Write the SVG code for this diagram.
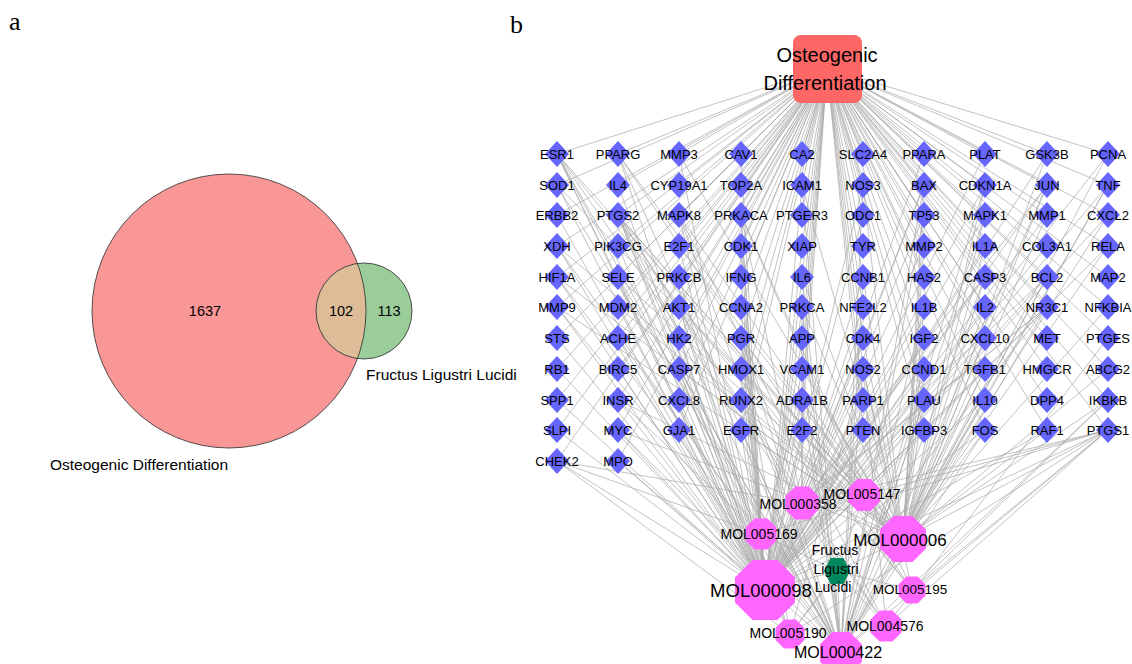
<svg xmlns="http://www.w3.org/2000/svg" xmlns:xlink="http://www.w3.org/1999/xlink" width="1132" height="664" viewBox="0 0 1132 664">
<style>
  text{font-family:"Liberation Sans",Arial,Helvetica,sans-serif;fill:#000}
  .panel{font-family:"Liberation Serif","Times New Roman",serif;font-size:26px}
  .v{font-size:15.5px}
  .vn{font-size:14.5px}
  .c{text-anchor:middle}
  .g{font-size:13px;text-anchor:middle}
  .m{font-size:14px;text-anchor:middle}
  .e{fill:none;stroke:#a9a9a9;stroke-width:0.7}
  .vc{stroke:#2a2a2a;stroke-width:0.8}
</style>
<defs>
  <polygon id="dia" points="0,-13 12,0 0,13 -12,0" fill="#6666FF"/>
  <polygon id="oct" points="9.239,3.827 3.827,9.239 -3.827,9.239 -9.239,3.827 -9.239,-3.827 -3.827,-9.239 3.827,-9.239 9.239,-3.827" fill="#FF66FF"/>
</defs>
<rect width="1132" height="664" fill="#fff"/>

<text class="panel" x="9" y="30">a</text>
<text class="panel" x="510" y="33">b</text>

<!-- Venn diagram -->
<g id="venn">
  <circle id="venn-osteo" cx="229" cy="311" r="137" fill="#F99696"/>
  <circle id="venn-fll" cx="364" cy="311" r="48" fill="#9ACD9A"/>
  <path id="venn-overlap" d="M357.5,263.5 A137,137 0 0 1 357.5,358.5 A48,48 0 0 1 357.5,263.5 Z" fill="#DFBC98"/>
  <circle class="vc" cx="229" cy="311" r="137" fill="none"/>
  <circle class="vc" cx="364" cy="311" r="48" fill="none"/>
  <text class="vn c" x="205" y="316">1637</text>
  <text class="vn c" x="341" y="316">102</text>
  <text class="vn c" x="389" y="316">113</text>
  <text class="v" x="366" y="380">Fructus Ligustri Lucidi</text>
  <text class="v" x="50" y="470">Osteogenic Differentiation</text>
</g>

<!-- Connectors -->
<g id="edges">
  <path id="e-OD" class="e" d="M827 68L557 154M827 68L618 154M827 68L679 154M827 68L741 154M827 68L802 154M827 68L863 154M827 68L924 154M827 68L985 154M827 68L1047 154M827 68L1108 154
  M827 68L557 185M827 68L618 185M827 68L679 185M827 68L741 185M827 68L802 185M827 68L863 185M827 68L924 185M827 68L985 185M827 68L1047 185M827 68L1108 185
  M827 68L557 215M827 68L618 215M827 68L679 215M827 68L741 215M827 68L802 215M827 68L863 215M827 68L924 215M827 68L985 215M827 68L1047 215M827 68L1108 215
  M827 68L557 246M827 68L618 246M827 68L679 246M827 68L741 246M827 68L802 246M827 68L863 246M827 68L924 246M827 68L985 246M827 68L1047 246M827 68L1108 246
  M827 68L557 277M827 68L618 277M827 68L679 277M827 68L741 277M827 68L802 277M827 68L863 277M827 68L924 277M827 68L985 277M827 68L1047 277M827 68L1108 277
  M827 68L557 307M827 68L618 307M827 68L679 307M827 68L741 307M827 68L802 307M827 68L863 307M827 68L924 307M827 68L985 307M827 68L1047 307M827 68L1108 307
  M827 68L557 338M827 68L618 338M827 68L679 338M827 68L741 338M827 68L802 338M827 68L863 338M827 68L924 338M827 68L985 338M827 68L1047 338M827 68L1108 338
  M827 68L557 369M827 68L618 369M827 68L679 369M827 68L741 369M827 68L802 369M827 68L863 369M827 68L924 369M827 68L985 369M827 68L1047 369M827 68L1108 369
  M827 68L557 400M827 68L618 400M827 68L679 400M827 68L741 400M827 68L802 400M827 68L863 400M827 68L924 400M827 68L985 400M827 68L1047 400M827 68L1108 400
  M827 68L557 430M827 68L618 430M827 68L679 430M827 68L741 430M827 68L802 430M827 68L863 430M827 68L924 430M827 68L985 430M827 68L1047 430M827 68L1108 430
  M827 68L557 461M827 68L618 461"/>
  <path id="e-M98" class="e" d="M765 590L557 154M765 590L618 154M765 590L679 154M765 590L741 154M765 590L924 154M765 590L985 154M765 590L1047 154M765 590L1108 154
  M765 590L557 185M765 590L618 185M765 590L802 185M765 590L863 185M765 590L924 185M765 590L985 185M765 590L1047 185M765 590L1108 185
  M765 590L557 215M765 590L618 215M765 590L679 215M765 590L741 215M765 590L863 215M765 590L924 215M765 590L985 215M765 590L1047 215M765 590L1108 215
  M765 590L557 246M765 590L618 246M765 590L679 246M765 590L741 246M765 590L802 246M765 590L924 246M765 590L985 246M765 590L1047 246M765 590L1108 246
  M765 590L557 277M765 590L618 277M765 590L679 277M765 590L741 277M765 590L802 277M765 590L863 277M765 590L985 277M765 590L1047 277
  M765 590L557 307M765 590L618 307M765 590L679 307M765 590L741 307M765 590L802 307M765 590L863 307M765 590L924 307M765 590L985 307
  M765 590L557 338M765 590L618 338M765 590L679 338M765 590L741 338M765 590L802 338M765 590L863 338M765 590L924 338M765 590L985 338
  M765 590L557 369M765 590L618 369M765 590L679 369M765 590L741 369M765 590L802 369M765 590L863 369M765 590L924 369M765 590L985 369
  M765 590L557 400M765 590L618 400M765 590L679 400M765 590L741 400M765 590L802 400M765 590L863 400M765 590L924 400M765 590L985 400
  M765 590L557 430M765 590L618 430M765 590L679 430M765 590L741 430M765 590L802 430M765 590L863 430M765 590L924 430M765 590L985 430M765 590L1047 430M765 590L1108 430
  M765 590L557 461M765 590L618 461"/>
  <path id="e-M06" class="e" d="M903 539L618 154M903 539L679 154M903 539L1108 154M903 539L1047 154M903 539L557 185M903 539L802 185M903 539L863 185M903 539L924 185M903 539L985 185M903 539L1047 185M903 539L1108 185
  M903 539L618 215M903 539L679 215M903 539L924 215M903 539L985 215M903 539L1047 215M903 539L1108 215M903 539L557 246M903 539L679 246M903 539L924 246M903 539L985 246M903 539L1108 246
  M903 539L557 277M903 539L618 277M903 539L802 277M903 539L863 277M903 539L985 277M903 539L1047 277M903 539L557 307M903 539L618 307M903 539L679 307M903 539L802 307M903 539L924 307M903 539L985 307M903 539L1108 307
  M903 539L863 338M903 539L924 338M903 539L985 338M903 539L679 369M903 539L741 369M903 539L802 369M903 539L863 369M903 539L924 369M903 539L985 369M903 539L1108 369
  M903 539L618 400M903 539L924 400M903 539L985 400M903 539L1108 400M903 539L618 430M903 539L741 430M903 539L985 430M903 539L1047 430M903 539L1108 430"/>
  <path id="e-M422" class="e" d="M841 652L557 154M841 652L618 154M841 652L557 185M841 652L802 185M841 652L863 185M841 652L924 185M841 652L985 185M841 652L1047 185M841 652L1108 185
  M841 652L618 215M841 652L679 215M841 652L924 215M841 652L985 215M841 652L557 246M841 652L557 277M841 652L618 277M841 652L802 277M841 652L985 277M841 652L1047 277M841 652L863 277
  M841 652L557 307M841 652L679 307M841 652L802 307M841 652L924 307M841 652L1047 307M841 652L741 338M841 652L679 369M841 652L741 369M841 652L802 369M841 652L863 369M841 652L924 369M841 652L985 369
  M841 652L802 400M841 652L924 400M841 652L1108 400M841 652L618 430M841 652L741 430M841 652L985 430M841 652L1108 430M841 652L618 461"/>
  <path id="e-M358" class="e" d="M802 503L741 338M802 503L1047 307M802 503L1108 430M802 503L618 215M802 503L924 185M802 503L985 277M802 503L802 307M802 503L1047 277M802 503L1047 185M802 503L802 400M802 503L741 215M802 503L557 461"/>
  <path id="e-M5147" class="e" d="M864 495L1108 430M864 495L618 215M864 495L741 215M864 495L802 400M864 495L1047 307M864 495L741 338M864 495L557 154"/>
  <path id="e-M5169" class="e" d="M761 534L1108 430M761 534L618 215M761 534L741 338M761 534L1047 307M761 534L557 154M761 534L618 338M761 534L802 400M761 534L741 215M761 534L557 461M761 534L618 400"/>
  <path id="e-M5195" class="e" d="M912 590L1108 430M912 590L618 215M912 590L557 154M912 590L618 154M912 590L1108 400M912 590L863 369M912 590L741 215"/>
  <path id="e-M4576" class="e" d="M886 626L1108 430M886 626L618 215M886 626L557 154M886 626L679 215M886 626L863 369M886 626L1108 338"/>
  <path id="e-M5190" class="e" d="M790 634L1108 430M790 634L618 215M790 634L557 154M790 634L557 461M790 634L679 307M790 634L741 338M790 634L1047 307M790 634L863 369"/>
  <path id="e-FLL" class="e" d="M837 571L765 590M837 571L903 539M837 571L841 652M837 571L802 503M837 571L864 495M837 571L761 534M837 571L912 590M837 571L886 626M837 571L790 634"/>
</g>

<!-- Target nodes -->
<g id="targets">
  <g id="n-ESR1"><use href="#dia" x="557" y="154"/><text class="g" x="557" y="159">ESR1</text></g>
  <g id="n-PPARG"><use href="#dia" x="618" y="154"/><text class="g" x="618" y="159">PPARG</text></g>
  <g id="n-MMP3"><use href="#dia" x="679" y="154"/><text class="g" x="679" y="159">MMP3</text></g>
  <g id="n-CAV1"><use href="#dia" x="741" y="154"/><text class="g" x="741" y="159">CAV1</text></g>
  <g id="n-CA2"><use href="#dia" x="802" y="154"/><text class="g" x="802" y="159">CA2</text></g>
  <g id="n-SLC2A4"><use href="#dia" x="863" y="154"/><text class="g" x="863" y="159">SLC2A4</text></g>
  <g id="n-PPARA"><use href="#dia" x="924" y="154"/><text class="g" x="924" y="159">PPARA</text></g>
  <g id="n-PLAT"><use href="#dia" x="985" y="154"/><text class="g" x="985" y="159">PLAT</text></g>
  <g id="n-GSK3B"><use href="#dia" x="1047" y="154"/><text class="g" x="1047" y="159">GSK3B</text></g>
  <g id="n-PCNA"><use href="#dia" x="1108" y="154"/><text class="g" x="1108" y="159">PCNA</text></g>

  <g id="n-SOD1"><use href="#dia" x="557" y="185"/><text class="g" x="557" y="190">SOD1</text></g>
  <g id="n-IL4"><use href="#dia" x="618" y="185"/><text class="g" x="618" y="190">IL4</text></g>
  <g id="n-CYP19A1"><use href="#dia" x="679" y="185"/><text class="g" x="679" y="190">CYP19A1</text></g>
  <g id="n-TOP2A"><use href="#dia" x="741" y="185"/><text class="g" x="741" y="190">TOP2A</text></g>
  <g id="n-ICAM1"><use href="#dia" x="802" y="185"/><text class="g" x="802" y="190">ICAM1</text></g>
  <g id="n-NOS3"><use href="#dia" x="863" y="185"/><text class="g" x="863" y="190">NOS3</text></g>
  <g id="n-BAX"><use href="#dia" x="924" y="185"/><text class="g" x="924" y="190">BAX</text></g>
  <g id="n-CDKN1A"><use href="#dia" x="985" y="185"/><text class="g" x="985" y="190">CDKN1A</text></g>
  <g id="n-JUN"><use href="#dia" x="1047" y="185"/><text class="g" x="1047" y="190">JUN</text></g>
  <g id="n-TNF"><use href="#dia" x="1108" y="185"/><text class="g" x="1108" y="190">TNF</text></g>

  <g id="n-ERBB2"><use href="#dia" x="557" y="215"/><text class="g" x="557" y="220">ERBB2</text></g>
  <g id="n-PTGS2"><use href="#dia" x="618" y="215"/><text class="g" x="618" y="220">PTGS2</text></g>
  <g id="n-MAPK8"><use href="#dia" x="679" y="215"/><text class="g" x="679" y="220">MAPK8</text></g>
  <g id="n-PRKACA"><use href="#dia" x="741" y="215"/><text class="g" x="741" y="220">PRKACA</text></g>
  <g id="n-PTGER3"><use href="#dia" x="802" y="215"/><text class="g" x="802" y="220">PTGER3</text></g>
  <g id="n-ODC1"><use href="#dia" x="863" y="215"/><text class="g" x="863" y="220">ODC1</text></g>
  <g id="n-TP53"><use href="#dia" x="924" y="215"/><text class="g" x="924" y="220">TP53</text></g>
  <g id="n-MAPK1"><use href="#dia" x="985" y="215"/><text class="g" x="985" y="220">MAPK1</text></g>
  <g id="n-MMP1"><use href="#dia" x="1047" y="215"/><text class="g" x="1047" y="220">MMP1</text></g>
  <g id="n-CXCL2"><use href="#dia" x="1108" y="215"/><text class="g" x="1108" y="220">CXCL2</text></g>

  <g id="n-XDH"><use href="#dia" x="557" y="246"/><text class="g" x="557" y="251">XDH</text></g>
  <g id="n-PIK3CG"><use href="#dia" x="618" y="246"/><text class="g" x="618" y="251">PIK3CG</text></g>
  <g id="n-E2F1"><use href="#dia" x="679" y="246"/><text class="g" x="679" y="251">E2F1</text></g>
  <g id="n-CDK1"><use href="#dia" x="741" y="246"/><text class="g" x="741" y="251">CDK1</text></g>
  <g id="n-XIAP"><use href="#dia" x="802" y="246"/><text class="g" x="802" y="251">XIAP</text></g>
  <g id="n-TYR"><use href="#dia" x="863" y="246"/><text class="g" x="863" y="251">TYR</text></g>
  <g id="n-MMP2"><use href="#dia" x="924" y="246"/><text class="g" x="924" y="251">MMP2</text></g>
  <g id="n-IL1A"><use href="#dia" x="985" y="246"/><text class="g" x="985" y="251">IL1A</text></g>
  <g id="n-COL3A1"><use href="#dia" x="1047" y="246"/><text class="g" x="1047" y="251">COL3A1</text></g>
  <g id="n-RELA"><use href="#dia" x="1108" y="246"/><text class="g" x="1108" y="251">RELA</text></g>

  <g id="n-HIF1A"><use href="#dia" x="557" y="277"/><text class="g" x="557" y="282">HIF1A</text></g>
  <g id="n-SELE"><use href="#dia" x="618" y="277"/><text class="g" x="618" y="282">SELE</text></g>
  <g id="n-PRKCB"><use href="#dia" x="679" y="277"/><text class="g" x="679" y="282">PRKCB</text></g>
  <g id="n-IFNG"><use href="#dia" x="741" y="277"/><text class="g" x="741" y="282">IFNG</text></g>
  <g id="n-IL6"><use href="#dia" x="802" y="277"/><text class="g" x="802" y="282">IL6</text></g>
  <g id="n-CCNB1"><use href="#dia" x="863" y="277"/><text class="g" x="863" y="282">CCNB1</text></g>
  <g id="n-HAS2"><use href="#dia" x="924" y="277"/><text class="g" x="924" y="282">HAS2</text></g>
  <g id="n-CASP3"><use href="#dia" x="985" y="277"/><text class="g" x="985" y="282">CASP3</text></g>
  <g id="n-BCL2"><use href="#dia" x="1047" y="277"/><text class="g" x="1047" y="282">BCL2</text></g>
  <g id="n-MAP2"><use href="#dia" x="1108" y="277"/><text class="g" x="1108" y="282">MAP2</text></g>

  <g id="n-MMP9"><use href="#dia" x="557" y="307"/><text class="g" x="557" y="312">MMP9</text></g>
  <g id="n-MDM2"><use href="#dia" x="618" y="307"/><text class="g" x="618" y="312">MDM2</text></g>
  <g id="n-AKT1"><use href="#dia" x="679" y="307"/><text class="g" x="679" y="312">AKT1</text></g>
  <g id="n-CCNA2"><use href="#dia" x="741" y="307"/><text class="g" x="741" y="312">CCNA2</text></g>
  <g id="n-PRKCA"><use href="#dia" x="802" y="307"/><text class="g" x="802" y="312">PRKCA</text></g>
  <g id="n-NFE2L2"><use href="#dia" x="863" y="307"/><text class="g" x="863" y="312">NFE2L2</text></g>
  <g id="n-IL1B"><use href="#dia" x="924" y="307"/><text class="g" x="924" y="312">IL1B</text></g>
  <g id="n-IL2"><use href="#dia" x="985" y="307"/><text class="g" x="985" y="312">IL2</text></g>
  <g id="n-NR3C1"><use href="#dia" x="1047" y="307"/><text class="g" x="1047" y="312">NR3C1</text></g>
  <g id="n-NFKBIA"><use href="#dia" x="1108" y="307"/><text class="g" x="1108" y="312">NFKBIA</text></g>

  <g id="n-STS"><use href="#dia" x="557" y="338"/><text class="g" x="557" y="343">STS</text></g>
  <g id="n-ACHE"><use href="#dia" x="618" y="338"/><text class="g" x="618" y="343">ACHE</text></g>
  <g id="n-HK2"><use href="#dia" x="679" y="338"/><text class="g" x="679" y="343">HK2</text></g>
  <g id="n-PGR"><use href="#dia" x="741" y="338"/><text class="g" x="741" y="343">PGR</text></g>
  <g id="n-APP"><use href="#dia" x="802" y="338"/><text class="g" x="802" y="343">APP</text></g>
  <g id="n-CDK4"><use href="#dia" x="863" y="338"/><text class="g" x="863" y="343">CDK4</text></g>
  <g id="n-IGF2"><use href="#dia" x="924" y="338"/><text class="g" x="924" y="343">IGF2</text></g>
  <g id="n-CXCL10"><use href="#dia" x="985" y="338"/><text class="g" x="985" y="343">CXCL10</text></g>
  <g id="n-MET"><use href="#dia" x="1047" y="338"/><text class="g" x="1047" y="343">MET</text></g>
  <g id="n-PTGES"><use href="#dia" x="1108" y="338"/><text class="g" x="1108" y="343">PTGES</text></g>

  <g id="n-RB1"><use href="#dia" x="557" y="369"/><text class="g" x="557" y="374">RB1</text></g>
  <g id="n-BIRC5"><use href="#dia" x="618" y="369"/><text class="g" x="618" y="374">BIRC5</text></g>
  <g id="n-CASP7"><use href="#dia" x="679" y="369"/><text class="g" x="679" y="374">CASP7</text></g>
  <g id="n-HMOX1"><use href="#dia" x="741" y="369"/><text class="g" x="741" y="374">HMOX1</text></g>
  <g id="n-VCAM1"><use href="#dia" x="802" y="369"/><text class="g" x="802" y="374">VCAM1</text></g>
  <g id="n-NOS2"><use href="#dia" x="863" y="369"/><text class="g" x="863" y="374">NOS2</text></g>
  <g id="n-CCND1"><use href="#dia" x="924" y="369"/><text class="g" x="924" y="374">CCND1</text></g>
  <g id="n-TGFB1"><use href="#dia" x="985" y="369"/><text class="g" x="985" y="374">TGFB1</text></g>
  <g id="n-HMGCR"><use href="#dia" x="1047" y="369"/><text class="g" x="1047" y="374">HMGCR</text></g>
  <g id="n-ABCG2"><use href="#dia" x="1108" y="369"/><text class="g" x="1108" y="374">ABCG2</text></g>

  <g id="n-SPP1"><use href="#dia" x="557" y="400"/><text class="g" x="557" y="405">SPP1</text></g>
  <g id="n-INSR"><use href="#dia" x="618" y="400"/><text class="g" x="618" y="405">INSR</text></g>
  <g id="n-CXCL8"><use href="#dia" x="679" y="400"/><text class="g" x="679" y="405">CXCL8</text></g>
  <g id="n-RUNX2"><use href="#dia" x="741" y="400"/><text class="g" x="741" y="405">RUNX2</text></g>
  <g id="n-ADRA1B"><use href="#dia" x="802" y="400"/><text class="g" x="802" y="405">ADRA1B</text></g>
  <g id="n-PARP1"><use href="#dia" x="863" y="400"/><text class="g" x="863" y="405">PARP1</text></g>
  <g id="n-PLAU"><use href="#dia" x="924" y="400"/><text class="g" x="924" y="405">PLAU</text></g>
  <g id="n-IL10"><use href="#dia" x="985" y="400"/><text class="g" x="985" y="405">IL10</text></g>
  <g id="n-DPP4"><use href="#dia" x="1047" y="400"/><text class="g" x="1047" y="405">DPP4</text></g>
  <g id="n-IKBKB"><use href="#dia" x="1108" y="400"/><text class="g" x="1108" y="405">IKBKB</text></g>

  <g id="n-SLPI"><use href="#dia" x="557" y="430"/><text class="g" x="557" y="435">SLPI</text></g>
  <g id="n-MYC"><use href="#dia" x="618" y="430"/><text class="g" x="618" y="435">MYC</text></g>
  <g id="n-GJA1"><use href="#dia" x="679" y="430"/><text class="g" x="679" y="435">GJA1</text></g>
  <g id="n-EGFR"><use href="#dia" x="741" y="430"/><text class="g" x="741" y="435">EGFR</text></g>
  <g id="n-E2F2"><use href="#dia" x="802" y="430"/><text class="g" x="802" y="435">E2F2</text></g>
  <g id="n-PTEN"><use href="#dia" x="863" y="430"/><text class="g" x="863" y="435">PTEN</text></g>
  <g id="n-IGFBP3"><use href="#dia" x="924" y="430"/><text class="g" x="924" y="435">IGFBP3</text></g>
  <g id="n-FOS"><use href="#dia" x="985" y="430"/><text class="g" x="985" y="435">FOS</text></g>
  <g id="n-RAF1"><use href="#dia" x="1047" y="430"/><text class="g" x="1047" y="435">RAF1</text></g>
  <g id="n-PTGS1"><use href="#dia" x="1108" y="430"/><text class="g" x="1108" y="435">PTGS1</text></g>

  <g id="n-CHEK2"><use href="#dia" x="557" y="461"/><text class="g" x="557" y="466">CHEK2</text></g>
  <g id="n-MPO"><use href="#dia" x="618" y="461"/><text class="g" x="618" y="466">MPO</text></g>
</g>

<!-- Molecule nodes -->
<g id="molecules">
  <g id="n-MOL005147"><use href="#oct" transform="translate(864 495) scale(1.73)"/><text class="m" x="862" y="499">MOL005147</text></g>
  <g id="n-MOL000358"><use href="#oct" transform="translate(802 503) scale(1.79)"/><text class="m" x="798" y="509">MOL000358</text></g>
  <g id="n-MOL005169"><use href="#oct" transform="translate(761 534) scale(1.68)"/><text class="m" x="759" y="539">MOL005169</text></g>
  <g id="n-MOL000006"><use href="#oct" transform="translate(903 539) scale(2.49)"/><text class="m" x="900" y="546" style="font-size:17px">MOL000006</text></g>
  <g id="n-MOL000098"><use href="#oct" transform="translate(765 590) scale(3.25)"/><text class="m" x="761" y="597" style="font-size:18.5px">MOL000098</text></g>
  <g id="n-MOL005195"><use href="#oct" transform="translate(912 590) scale(1.46)"/><text class="m" x="910" y="594" style="font-size:13.5px">MOL005195</text></g>
  <g id="n-MOL004576"><use href="#oct" transform="translate(886 626) scale(1.68)"/><text class="m" x="885" y="631">MOL004576</text></g>
  <g id="n-MOL005190"><use href="#oct" transform="translate(790 634) scale(1.57)"/><text class="m" x="788" y="638">MOL005190</text></g>
  <g id="n-MOL000422"><use href="#oct" transform="translate(841 653) scale(2.27)"/><text class="m" x="838" y="658" style="font-size:16px">MOL000422</text></g>
  <g id="n-FLL">
    <polygon points="824,571 830.5,558 843.5,558 850,571 843.5,584 830.5,584" fill="#00895E"/>
    <text class="m" x="835" y="555">Fructus</text>
    <text class="m" x="836" y="574">Ligustri</text>
    <text class="m" x="833" y="592">Lucidi</text>
  </g>
</g>

<!-- Disease node -->
<g id="n-OD">
  <rect x="793" y="35" width="69" height="68" rx="8" ry="8" fill="#FF6666"/>
  <text class="c" x="827" y="62" style="font-size:20px">Osteogenic</text>
  <text class="c" x="825" y="90" style="font-size:20px">Differentiation</text>
</g>
</svg>
